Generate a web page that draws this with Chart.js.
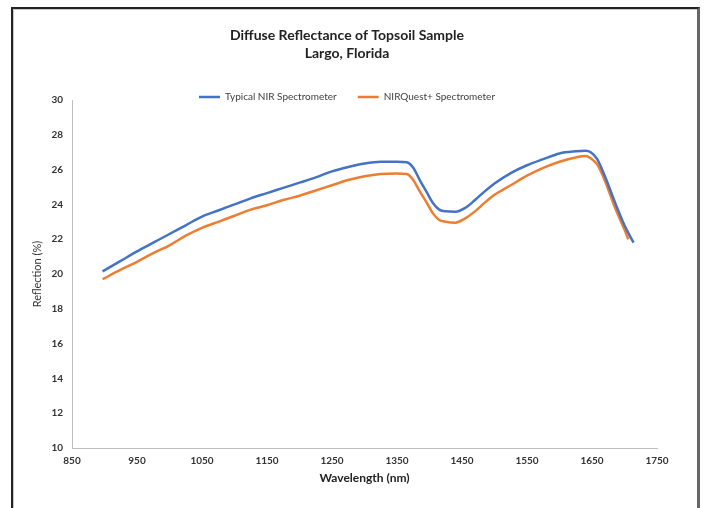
<!DOCTYPE html>
<html lang="en">

<head>
    <meta charset="UTF-8">
    <script src="https://cdn.jsdelivr.net/npm/chart.js"></script>
    <title>Diffuse Reflectance of Topsoil Sample</title>
    <style>
        html, body { margin: 0; padding: 0; background: #fff; }
        #quadro {
            position: relative;
            width: 704px;
            height: 508px;
            overflow: hidden;
        }
        #moldura {
            position: absolute;
            left: 11px;
            top: 7px;
            width: 684px;
            height: 560px;
            border-left: 2px solid #222;
            border-top: 2px solid #222;
            border-right: 3px solid #666;
            box-shadow: inset 1px 1px 0 #c8c8c8;
        }
        #grafico {
            position: absolute;
            left: 0;
            top: 0;
        }
    </style>
</head>

<body>
    <div id="quadro">
        <div id="moldura"></div>
        <canvas id="grafico" width="704" height="508"></canvas>
    </div>

<script>
    // values
    var seriesNames = ['Typical NIR Spectrometer', 'NIRQuest+ Spectrometer'];

    var typicalWavelength = [897, 925, 950, 975, 1000, 1025, 1050, 1075, 1100, 1125, 1150, 1175, 1200, 1225, 1250, 1275, 1300, 1325, 1350, 1365, 1375, 1385, 1395, 1405, 1415, 1425, 1440, 1455, 1470, 1485, 1500, 1525, 1550, 1575, 1600, 1625, 1640, 1648, 1658, 1670, 1685, 1700, 1714];
    var typicalReflection = [20.15, 20.75, 21.3, 21.8, 22.3, 22.8, 23.3, 23.65, 24.0, 24.35, 24.65, 24.95, 25.25, 25.55, 25.9, 26.15, 26.35, 26.45, 26.45, 26.42, 26.1, 25.4, 24.75, 24.1, 23.7, 23.6, 23.58, 23.8, 24.25, 24.75, 25.2, 25.8, 26.25, 26.6, 26.93, 27.05, 27.08, 27.0, 26.6, 25.6, 24.15, 22.8, 21.8];

    var questWavelength = [897, 925, 950, 975, 1000, 1025, 1050, 1075, 1100, 1125, 1150, 1175, 1200, 1225, 1250, 1275, 1300, 1325, 1350, 1365, 1375, 1385, 1395, 1405, 1415, 1425, 1440, 1455, 1470, 1485, 1500, 1525, 1550, 1575, 1600, 1625, 1640, 1648, 1658, 1670, 1685, 1700, 1706];
    var questReflection = [19.7, 20.25, 20.7, 21.2, 21.65, 22.2, 22.65, 23.0, 23.35, 23.7, 23.95, 24.25, 24.5, 24.8, 25.1, 25.4, 25.62, 25.75, 25.78, 25.75, 25.4, 24.75, 24.15, 23.5, 23.1, 23.0, 22.95, 23.2, 23.6, 24.1, 24.55, 25.1, 25.65, 26.1, 26.45, 26.7, 26.78, 26.65, 26.3, 25.35, 23.85, 22.55, 22.0];

    var xMin = 850, xMax = 1750, xStep = 100;
    var yMin = 10, yMax = 30, yStep = 2;

    function pontos(xs, ys) {
        var lista = [];
        for (var i = 0; i < xs.length; i++) {
            lista.push({ x: xs[i], y: ys[i] });
        }
        return lista;
    }

    var fonte = 'Lato, "Open Sans", sans-serif';

    // legend sits right on top of the plot, like in the Excel original
    var legendaJusta = {
        id: 'legendaJusta',
        beforeInit: function (chart) {
            var legenda = chart.legend;
            var fitOriginal = legenda.fit;
            var drawOriginal = legenda.draw;
            legenda.fit = function () {
                fitOriginal.call(this);
                this.height = 29;
            };
            // do not cut the descenders of the labels
            legenda.draw = function () {
                var fundo = this.bottom;
                this.bottom = fundo + 8;
                drawOriginal.call(this);
                this.bottom = fundo;
            };
        }
    };

    var ctx = document.getElementById('grafico').getContext('2d');
    var grafico = new Chart(ctx, {
        type: 'line',
        data: {
            datasets: [{
                label: seriesNames[0],
                data: pontos(typicalWavelength, typicalReflection),
                borderColor: '#4472C4',
                backgroundColor: '#4472C4',
                borderWidth: 2.5,
                pointRadius: 0,
                cubicInterpolationMode: 'monotone'
            }, {
                label: seriesNames[1],
                data: pontos(questWavelength, questReflection),
                borderColor: '#ED7D31',
                backgroundColor: '#ED7D31',
                borderWidth: 2.5,
                pointRadius: 0,
                cubicInterpolationMode: 'monotone'
            }]
        },
        options: {
            responsive: false,
            animation: false,
            layout: {
                padding: { top: 0, left: 0, right: 10, bottom: 0 }
            },
            plugins: {
                title: {
                    display: true,
                    text: ['Diffuse Reflectance of Topsoil Sample', 'Largo, Florida'],
                    color: '#222',
                    font: { family: fonte, size: 14, weight: 'bold', lineHeight: 1.3 },
                    padding: { top: 26, bottom: 8.6 }
                },
                legend: {
                    labels: {
                        usePointStyle: true,
                        pointStyle: 'line',
                        pointStyleWidth: 21,
                        padding: 21,
                        color: '#404040',
                        font: { family: fonte, size: 10 }
                    }
                },
                tooltip: { enabled: false }
            },
            scales: {
                x: {
                    type: 'linear',
                    min: xMin,
                    max: xMax,
                    grid: { display: false, drawTicks: false },
                    border: { display: true, color: '#bfbfbf', width: 1 },
                    ticks: {
                        stepSize: xStep,
                        padding: 7,
                        color: '#333',
                        font: { family: fonte, size: 10, weight: 'bold' },
                        callback: function (v) { return v; }
                    },
                    title: {
                        display: true,
                        text: 'Wavelength (nm)',
                        color: '#222',
                        font: { family: fonte, size: 12, weight: 'bold' },
                        padding: { top: 0, bottom: 22.8 }
                    },
                    afterFit: function (s) { s.height = 60; }
                },
                y: {
                    min: yMin,
                    max: yMax,
                    grid: { display: false, drawTicks: false },
                    border: { display: true, color: '#bfbfbf', width: 1 },
                    ticks: {
                        stepSize: yStep,
                        padding: 9,
                        color: '#333',
                        font: { family: fonte, size: 10, weight: 'bold' }
                    },
                    title: {
                        display: true,
                        text: 'Reflection (%)',
                        color: '#333',
                        font: { family: fonte, size: 11 },
                        padding: { top: 30.4, bottom: 0 }
                    },
                    afterFit: function (s) { s.width = 72; }
                },
                // empty right margin so title and legend centre like the original
                margemDireita: {
                    position: 'right',
                    min: 0,
                    max: 1,
                    grid: { display: false, drawTicks: false },
                    border: { display: false },
                    ticks: { display: false },
                    afterFit: function (s) { s.width = 37; }
                }
            }
        },
        plugins: [legendaJusta]
    });
</script>
</body>

</html>
